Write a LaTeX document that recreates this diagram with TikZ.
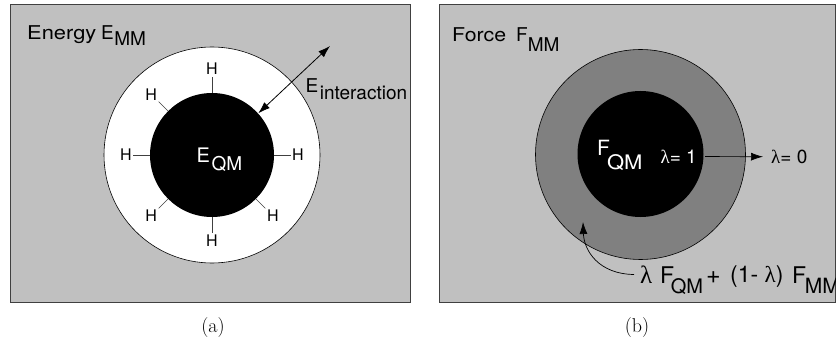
\documentclass[tikz,border=0pt]{standalone}
\usepackage{fontspec}
\setsansfont{TeX Gyre Heros}
\newfontfamily\grk{Liberation Serif}
\usetikzlibrary{arrows.meta}
\definecolor{panelgray}{RGB}{192,192,192}
\definecolor{ringgray}{RGB}{128,128,128}
% size helper and lowered subscript: #1 drop, #2 size, #3 text
\newcommand\sz[1]{\fontsize{#1}{#1}\selectfont}
\newcommand\lowsub[3]{\raisebox{-#1}{\sz{#2}#3}}
\begin{document}
\begin{tikzpicture}[x=1pt,y=1pt,
  panel/.style={draw=black!75, line width=0.8pt, fill=panelgray},
  txt/.style={font=\sffamily, inner sep=0pt, anchor=base west},
  hatom/.style={font=\sffamily\sz{16}, inner sep=1.5pt},
  bond/.style={line width=0.7pt, black!75},
  ring/.style={circle, draw=black, line width=0.6pt, inner sep=0pt},
  core/.style={circle, fill=black, inner sep=0pt},
  arrowline/.style={-{Latex[length=12pt,width=8pt]}, line width=0.7pt},
  twoway/.style={{Latex[length=12pt,width=8pt]}-{Latex[length=12pt,width=8pt]}, line width=0.8pt},
  subcaption/.style={font=\sz{20}, inner sep=0pt}
]
\useasboundingbox (0,0) rectangle (836,346);

% ---------- (a) energy ----------
\draw[panel] (10,44) rectangle (410.5,342);
\node[ring, fill=white, minimum size=216pt] (outA) at (212,191) {};
\node[core, minimum size=124pt] (qmA) at (212,191) {};
\node[txt, text=white] (eqm) at (196.5,183) {\sz{20}E\kern1.5pt\lowsub{8pt}{19}{QM}};
\foreach \a in {0,90,135,180,225,270,315}{
  \node[hatom] (h\a) at ([shift={(\a:86)}]qmA.center) {H};
  \draw[bond] (qmA.\a) -- (h\a);
}
\coordinate (intEnd) at (330,300);
\draw[twoway] (qmA.42) -- (intEnd);
\node[txt] (eint) at (305.5,253.3) {\sz{19}E\kern1.5pt\lowsub{7.3pt}{19}{interaction}};
\node[txt] (titA) at (27,306.7) {\sz{19}\scalebox{1.15}[1]{Energy}};
\node[txt] (titAsub) at (101,306.7) {\sz{19}E\kern0.5pt\lowsub{6pt}{19}{MM}};
\node[subcaption] (capA) at (213,18) {(a)};

% ---------- (b) force ----------
\draw[panel] (439,44) rectangle (835.5,342);
\node[ring, fill=ringgray, minimum size=210pt] (outB) at (640.5,191.5) {};
\node[core, minimum size=126pt] (qmB) at (640.5,192) {};
\node[txt, text=white] (fqm) at (597,190) {\sz{21}F\kern-3pt\lowsub{14pt}{20}{\scalebox{1.1}[1]{QM}}};
\node[txt, text=white, anchor=base east] (l1) at (697,182.7) {\sz{19}{\grk λ}= 1};
\node[txt] (l0) at (771,182.7) {\sz{19}{\grk λ}= 0};
\draw[arrowline] ([xshift=8pt]l1.east) -- ([xshift=-8pt]l0.west);
% mixed force expression
\node[txt] (mixA) at (640,62.7) {\sz{25}\grk λ};
\node[txt] (mixB) at (660,62.7) {\sz{23}F\kern-3.5pt\lowsub{10pt}{20}{QM}};
\node[txt] (mixC) at (706,62.7) {\sz{25}+};
\node[txt] (mixD) at (730,64) {\sz{23}(1- {\grk λ})};
\node[txt] (mixE) at (792,62.7) {\sz{23}F\kern-1.5pt\lowsub{10pt}{21}{MM}};
\coordinate (ringPt) at (583,124);
\draw[arrowline] ([xshift=-6pt]mixA.west) .. controls (598,72) and (584,96) .. (ringPt);
\node[txt] (titB) at (452,304.3) {\sz{19}\scalebox{1.12}[1]{Force}};
\node[txt] (titBsub) at (516,304.3) {\sz{19}F\lowsub{10pt}{19}{MM}};
\node[subcaption] (capB) at (637,18) {(b)};
\end{tikzpicture}
\end{document}
